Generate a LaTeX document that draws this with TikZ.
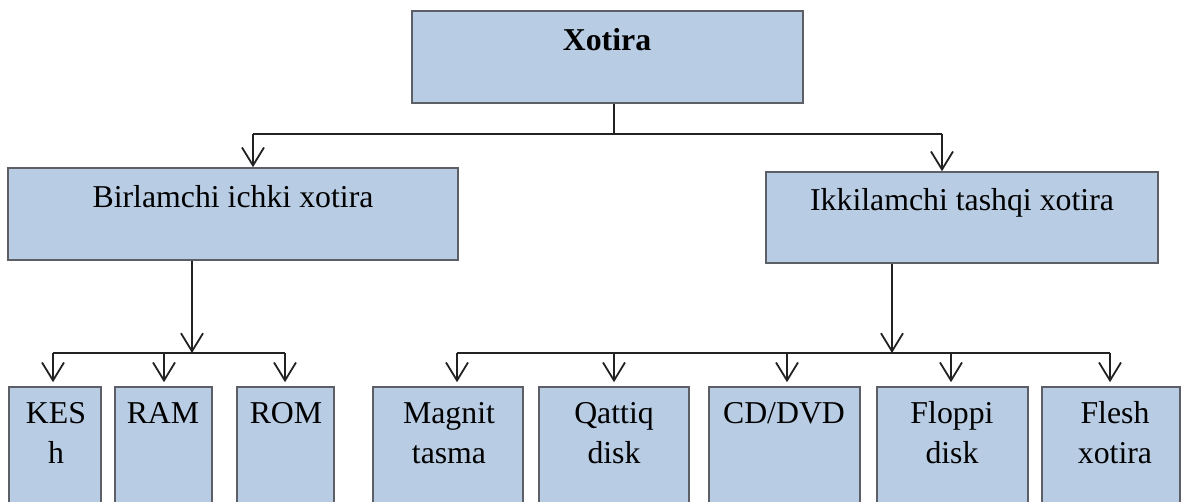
\documentclass[tikz,border=0pt]{standalone}
\usepackage{fontspec}
\setmainfont{Liberation Serif}
\usetikzlibrary{arrows.meta,fit}
\definecolor{boxfill}{HTML}{B8CCE4}
\definecolor{boxline}{HTML}{5C6066}
\definecolor{conn}{HTML}{222222}
\begin{document}
\begin{tikzpicture}[x=0.5pt,y=-0.5pt,
  box/.style={draw=boxline, fill=boxfill, line width=0.8pt, inner sep=0pt},
  lbl/.style={anchor=base, inner sep=0pt, align=center, font=\fontsize{15.9}{20}\selectfont},
  conline/.style={draw=conn, line width=0.9pt},
  arr/.style={conline, -{Straight Barb[length=9pt,width=11pt,line width=0.9pt]}},
  arrb/.style={arr, shorten >=2pt}]
\clip (0,0) rectangle (1184,502);
\fill[white] (0,0) rectangle (1184,502);
% level 0
\node[box, fit={(412,11) (803,103)}] (top) {};
\node[lbl] (topt) at (607,51) {\bfseries Xotira};
% level 1
\node[box, fit={(8,168) (458,260)}] (L) {};
\node[lbl] (Lt) at (233,208) {Birlamchi ichki xotira};
\node[box, fit={(766,172) (1158,263)}] (R) {};
\node[lbl] (Rt) at (962,211) {Ikkilamchi tashqi xotira};
% level 2 boxes (base anchor = last line)
\node[box, fit={(9,387) (101,515)}] (kesh) {};
\node[lbl] (kesht) at (56,463) {KES\\h};
\node[box, fit={(115,387) (212,515)}] (ram) {};
\node[lbl] (ramt) at (163,423) {RAM};
\node[box, fit={(237,387) (334,515)}] (rom) {};
\node[lbl] (romt) at (286,423) {ROM};
\node[box, fit={(373,387) (523,515)}] (mag) {};
\node[lbl] (magt) at (449,463) {Magnit\\tasma};
\node[box, fit={(539,387) (689,515)}] (qat) {};
\node[lbl] (qatt) at (614,463) {Qattiq\\disk};
\node[box, fit={(709,387) (860,515)}] (cd) {};
\node[lbl] (cdt) at (784,423) {CD/DVD};
\node[box, fit={(877,387) (1028,515)}] (flo) {};
\node[lbl] (flot) at (952,463) {Floppi\\disk};
\node[box, fit={(1042,387) (1180,515)}] (fle) {};
\node[lbl] (flet) at (1115,463) {Flesh\\xotira};
% junctions
\coordinate (j0) at (614,134);
\coordinate (jL) at (192,353);
\coordinate (jR) at (892,353);
% top connectors
\draw[conline] (top.south -| j0) -- (j0);
\draw[conline] (j0) -- (j0 -| 253,0) coordinate (aL);
\draw[conline] (j0) -- (j0 -| 942,0) coordinate (aR);
\draw[arr] (aL) -- (aL |- L.north);
\draw[arr] (aR) -- (aR |- R.north);
% left branch
\draw[arr] (L.south -| jL) -- (jL);
\draw[conline] (53,353) coordinate (k1) -- (285,353) coordinate (k3);
\draw[arrb] (k1) -- (k1 |- kesh.north);
\draw[arrb] (164,353) coordinate (k2) -- (k2 |- ram.north);
\draw[arrb] (k3) -- (k3 |- rom.north);
% right branch
\draw[arr] (R.south -| jR) -- (jR);
\draw[conline] (457,353) coordinate (m1) -- (1110,353) coordinate (m5);
\draw[arrb] (m1) -- (m1 |- mag.north);
\draw[arrb] (614,353) coordinate (m2) -- (m2 |- qat.north);
\draw[arrb] (787,353) coordinate (m3) -- (m3 |- cd.north);
\draw[arrb] (951,353) coordinate (m4) -- (m4 |- flo.north);
\draw[arrb] (m5) -- (m5 |- fle.north);
\end{tikzpicture}
\end{document}
